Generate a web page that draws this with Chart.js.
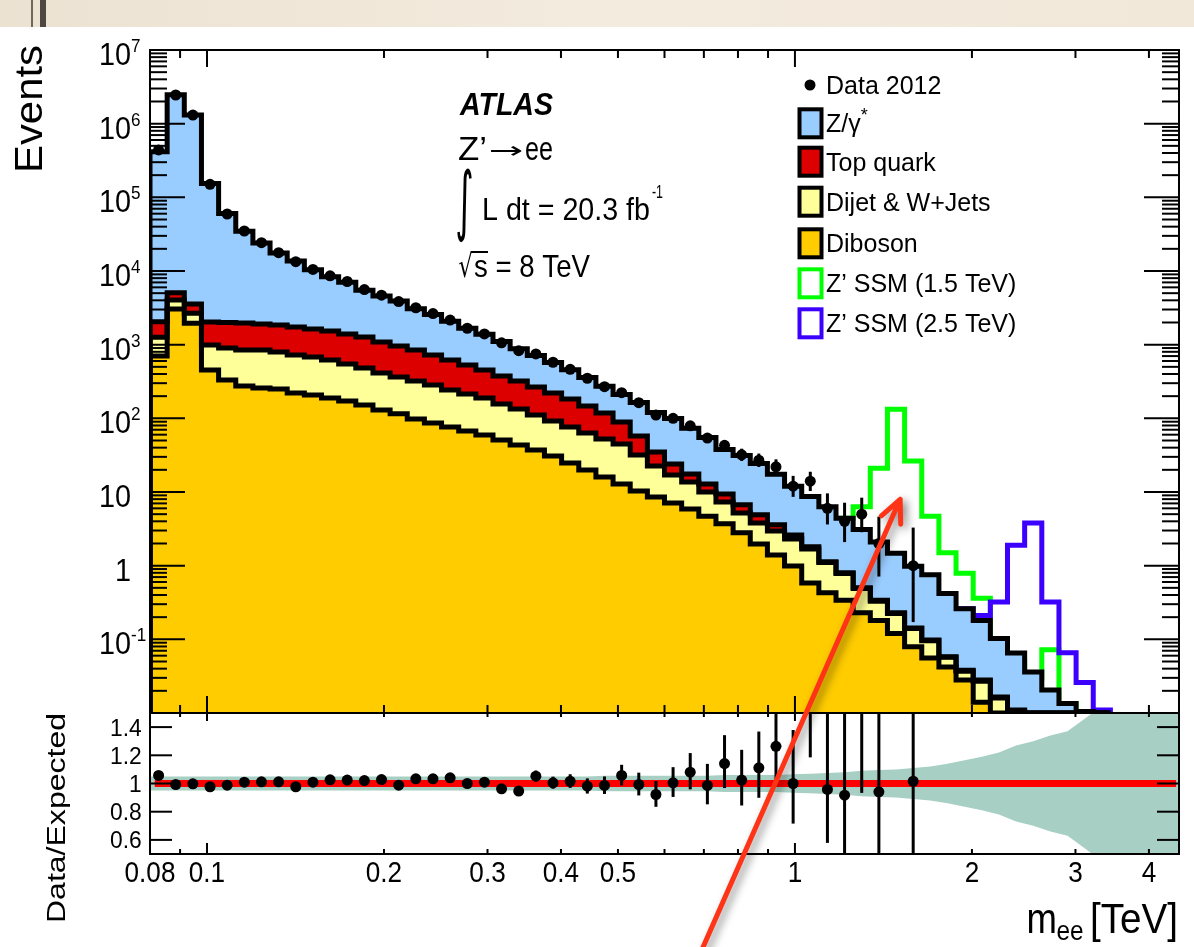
<!DOCTYPE html>
<html>
<head>
<meta charset="utf-8">
<title>ATLAS Z' to ee - dielectron mass spectrum</title>
<script src="https://cdn.jsdelivr.net/npm/chart.js@4.4.1/dist/chart.umd.min.js"></script>
<style>
  html, body { margin: 0; padding: 0; background: #fff; }
  #wrap { position: relative; width: 1194px; height: 947px; overflow: hidden; }
  #wrap canvas { position: absolute; left: 0; top: 0; }
</style>
</head>
<body>
<div id="wrap">
  <canvas id="mainChart" width="1194" height="947"></canvas>
  <canvas id="ratioChart" width="1194" height="947"></canvas>
</div>
<script>
// m_ee bin edges [TeV], 60 log bins
var binEdges = [0.08, 0.08556, 0.09150, 0.09786, 0.10466, 0.11193, 0.11970, 0.12802, 0.13691, 0.14643,
  0.15660, 0.16748, 0.17911, 0.19155, 0.20486, 0.21909, 0.23431, 0.25059, 0.26800, 0.28662,
  0.30651, 0.32780, 0.35059, 0.37494, 0.40100, 0.42887, 0.45866, 0.49053, 0.52460, 0.56105,
  0.60002, 0.64170, 0.68629, 0.73396, 0.78494, 0.83948, 0.89780, 0.96016, 1.02686, 1.09820,
  1.17448, 1.25608, 1.34334, 1.43666, 1.53646, 1.64321, 1.75734, 1.87942, 2.00998, 2.14962,
  2.29894, 2.45864, 2.62946, 2.81210, 3.00745, 3.21640, 3.43983, 3.67879, 3.93434, 4.20770, 4.5];

// Data 2012 (events per bin)
var dataCounts = [440000, 2450000, 1310000, 150000, 59400, 34900, 24200, 17700, 13400, 10500,
  8600, 7200, 5600, 4700, 3850, 3170, 2640, 2160, 1670, 1400,
  1060, 830, 748, 577, 463, 350, 269, 223, 163, 111,
  100, 79, 54, 43, 32, 27, 22, 12, 14, 6,
  4, 5, 2, 0, 1, 0, 0, 0, 0, 0,
  0, 0, 0, 0, 0, 0, 0, 0, 0, 0];

// stacked background, cumulative top of each layer
var zgammaTop = [416000, 2470000, 1310000, 154000, 60100, 34600, 23900, 17500, 13700, 10400,
  8380, 7030, 5480, 4570, 3900, 3070, 2560, 2080, 1670, 1390,
  1100, 877, 711, 574, 456, 357, 273, 211, 164, 120,
  99.5, 73.1, 54.8, 37.7, 31.2, 24.3, 17.4, 12.0, 8.7, 6.3,
  4.4, 3.1, 2.1, 1.47, 0.98, 0.75, 0.42, 0.26, 0.18, 0.103,
  0.065, 0.036, 0.0205, 0.0135, 0.0105, 0.005, 0, 0, 0, 0];
var topQuarkTop = [2050, 5080, 3565, 2030, 2000, 1970, 1910, 1850, 1740, 1630,
  1535, 1400, 1270, 1087, 960, 847, 724, 619, 530, 453,
  376, 321, 266, 221, 183, 147, 118, 89, 57.5, 34.9,
  24, 17.6, 12.8, 9.4, 6.7, 4.9, 3.6, 2.6, 1.8, 1.13,
  0.80, 0.50, 0.34, 0.23, 0.143, 0.098, 0.058, 0.038, 0.028, 0.0165,
  0.011, 0.007, 0.004, 0.003, 0.002, 0.001, 0, 0, 0, 0];
var dijetTop = [1259, 4040, 2667, 990, 902, 847, 847, 796, 724, 681,
  619, 547, 483, 413, 364, 321, 284, 243, 214, 189,
  157, 134, 111, 92, 76, 63, 52.5, 44.9, 31.8, 22.6,
  17.0, 13.7, 10.0, 7.3, 5.2, 3.8, 2.96, 2.3, 1.68, 1.10,
  0.78, 0.49, 0.33, 0.225, 0.14, 0.096, 0.057, 0.037, 0.027, 0.016,
  0.0105, 0.0068, 0.004, 0.003, 0.002, 0.001, 0, 0, 0, 0];
var dibosonTop = [702, 3050, 1950, 453, 332, 275, 258, 250, 221, 207,
  189, 172, 152, 130, 115, 98, 86.5, 76, 67.3, 59.4,
  50.8, 43.4, 37.2, 30.8, 24.8, 19.9, 16.0, 12.8, 10.3, 8.55,
  7.1, 5.9, 4.7, 3.7, 2.8, 1.97, 1.40, 0.99, 0.58, 0.43,
  0.34, 0.23, 0.18, 0.12, 0.079, 0.056, 0.042, 0.028, 0.014, 0.008,
  0.005, 0.003, 0.002, 0.001, 0.001, 0.0005, 0, 0, 0, 0];

// Z' SSM signal + background, drawn under the stack
var zprime1500 = [null, null, null, null, null, null, null, null, null, null,
  null, null, null, null, null, null, null, null, null, null,
  null, null, null, null, null, null, null, null, null, null,
  null, null, null, null, null, null, null, null, null, null,
  4.4, 6.3, 21, 133, 26.4, 4.7, 1.5, 0.79, 0.36, 0.09,
  0.05, 0.03, 0.072, 0.0135, null, null, null, null, null, null];
var zprime2500 = [null, null, null, null, null, null, null, null, null, null,
  null, null, null, null, null, null, null, null, null, null,
  null, null, null, null, null, null, null, null, null, null,
  null, null, null, null, null, null, null, null, null, null,
  null, null, null, null, null, null, null, 0.26, 0.21, 0.32,
  1.9, 3.8, 0.32, 0.066, 0.026, 0.011, null, null, null, null];

// lower panel
var ratioVals = [1.057, 0.993, 0.998, 0.977, 0.988, 1.009, 1.012, 1.012, 0.977, 1.009,
  1.026, 1.024, 1.021, 1.028, 0.988, 1.033, 1.033, 1.040, 1.0, 1.009,
  0.962, 0.946, 1.052, 1.005, 1.016, 0.981, 0.986, 1.057, 0.993, 0.922,
  1.005, 1.080, 0.986, 1.141, 1.024, 1.111, 1.264, 1.0, 1.61, 0.958,
  0.917, 1.64, 0.941, null, 1.016, null, null, null, null, null,
  null, null, null, null, null, null, null, null, null, null];
var bandErr = [0.05, 0.05, 0.05, 0.05, 0.05, 0.05, 0.05, 0.05, 0.05, 0.05,
  0.05, 0.05, 0.05, 0.05, 0.05, 0.05, 0.05, 0.05, 0.05, 0.05,
  0.05, 0.05, 0.05, 0.05, 0.05, 0.05, 0.055, 0.055, 0.055, 0.055,
  0.055, 0.055, 0.055, 0.06, 0.06, 0.06, 0.06, 0.065, 0.07, 0.075,
  0.08, 0.09, 0.095, 0.10, 0.11, 0.12, 0.14, 0.165, 0.19, 0.22,
  0.27, 0.30, 0.34, 0.37, 0.46, 0.55, 0.65, 0.7, 0.75, 0.8];

var xTickVals = [0.08, 0.1, 0.2, 0.3, 0.4, 0.5, 1, 2, 3, 4];
var xTickLabels = ['0.08', '0.1', '0.2', '0.3', '0.4', '0.5', '1', '2', '3', '4'];
var xMinorTicks = [0.09, 0.2, 0.3, 0.4, 0.5, 0.6, 0.7, 0.8, 0.9, 2, 3, 4];
var xMajorTicks = [0.1, 1];
var yExponents = [-1, 0, 1, 2, 3, 4, 5, 6, 7];
var ratioTicks = [0.6, 0.8, 1, 1.2, 1.4];
var ratioTickLabels = ['0.6', '0.8', '1', '1.2', '1.4'];
var ratioLineX = [0.0815, 4.45];

var legendItems = ['Data 2012', 'Z/\u03b3', 'Top quark', 'Dijet & W+Jets', 'Diboson', 'Z\u2019 SSM (1.5 TeV)', 'Z\u2019 SSM (2.5 TeV)'];
var legendRowY = [85, 123.3, 161.7, 201.7, 243.3, 283.3, 323.3];

var X_MIN = 0.08, X_MAX = 4.5, Y_MIN = 0.01, Y_MAX = 1e7;
var C_Z = 'rgb(153,204,255)', C_TOP = 'rgb(221,0,0)', C_DIJET = 'rgb(255,255,153)', C_DIB = 'rgb(255,204,0)';
var C_Z1 = 'rgb(0,255,0)', C_Z2 = 'rgb(60,0,255)', C_BAND = 'rgb(168,207,196)';
var FONT = '"Liberation Sans", Arial, Helvetica, sans-serif';

var binCenters = binEdges.slice(0, -1).map(function(e, i) { return Math.sqrt(e * binEdges[i + 1]); });

function clampY(v) { return Math.max(v, Y_MIN); }

function stackPoints(vals) {
  var last = -1;
  for (var i = 0; i < vals.length; i++) if (vals[i] > 0) last = i;
  var pts = [{x: binEdges[0], y: Y_MIN}];
  for (i = 0; i <= last; i++) pts.push({x: binEdges[i], y: clampY(vals[i])});
  pts.push({x: binEdges[last + 1], y: clampY(vals[last])});
  pts.push({x: binEdges[last + 1], y: Y_MIN});
  return pts;
}

function signalPoints(vals) {
  var pts = [], last = -1;
  for (var i = 0; i < vals.length; i++) {
    if (vals[i] != null) { pts.push({x: binEdges[i], y: clampY(vals[i])}); last = i; }
  }
  pts.push({x: binEdges[last + 1], y: clampY(vals[last])});
  pts.push({x: binEdges[last + 1], y: Y_MIN});
  return pts;
}

// 68% Poisson interval (Wilson-Hilferty approximation)
function poisLo(n) { return n <= 0 ? 0 : n * Math.pow(1 - 1 / (9 * n) - 1 / (3 * Math.sqrt(n)), 3); }
function poisHi(n) { var m = n + 1; return m * Math.pow(1 - 1 / (9 * m) + 1 / (3 * Math.sqrt(m)), 3); }

function txt(ctx, s, x, y, o) {
  o = o || {};
  ctx.save();
  ctx.font = (o.style || '') + ' ' + (o.size || 24) + 'px ' + FONT;
  ctx.fillStyle = o.color || '#000';
  ctx.textBaseline = 'alphabetic';
  ctx.textAlign = 'left';
  var w = ctx.measureText(s).width;
  var sx = o.w ? o.w / w : (o.sx || 1);
  ctx.translate(x, y);
  if (o.rot) ctx.rotate(o.rot);
  ctx.scale(sx, o.sy || 1);
  var off = o.align === 'right' ? -w : (o.align === 'center' ? -w / 2 : 0);
  ctx.fillText(s, off, 0);
  ctx.restore();
  return w * sx;
}

// squeeze one glyph into a box (for the integral, arrow and root signs)
function glyphBox(ctx, s, x1, y1, x2, y2, family) {
  ctx.save();
  ctx.font = '40px ' + family;
  ctx.fillStyle = '#000';
  ctx.textAlign = 'left'; ctx.textBaseline = 'alphabetic';
  var m = ctx.measureText(s);
  var gw = m.actualBoundingBoxLeft + m.actualBoundingBoxRight;
  var gh = m.actualBoundingBoxAscent + m.actualBoundingBoxDescent;
  ctx.translate(x1, y1);
  ctx.scale((x2 - x1) / gw, (y2 - y1) / gh);
  ctx.fillText(s, m.actualBoundingBoxLeft, m.actualBoundingBoxAscent);
  ctx.restore();
}

function line(ctx, x1, y1, x2, y2) {
  ctx.beginPath(); ctx.moveTo(x1, y1); ctx.lineTo(x2, y2); ctx.stroke();
}

function fillSet(vals, color, order) {
  return {data: stackPoints(vals), stepped: true, fill: 'start', backgroundColor: color,
    borderColor: 'rgba(0,0,0,0)', borderWidth: 0, pointRadius: 0, order: order};
}
function edgeSet(vals, order) {
  return {data: stackPoints(vals), stepped: true, fill: false, borderColor: '#000',
    borderWidth: 5, borderJoinStyle: 'miter', pointRadius: 0, order: order};
}
function signalSet(vals, color, order) {
  return {data: signalPoints(vals), stepped: true, fill: false, borderColor: color,
    borderWidth: 5, borderJoinStyle: 'miter', pointRadius: 0, order: order};
}

var dataPts = [];
dataCounts.forEach(function(n, i) { if (n > 0) dataPts.push({x: binCenters[i], y: n}); });

var mainDeco = {
  id: 'mainDeco',
  beforeDraw: function(chart) {
    var ctx = chart.ctx;
    ctx.save();
    var g = ctx.createLinearGradient(0, 0, 1194, 0);
    g.addColorStop(0, '#ECE2D2'); g.addColorStop(0.5, '#F3EBDE'); g.addColorStop(1, '#F1E8DA');
    ctx.fillStyle = g;
    ctx.fillRect(0, 0, 1194, 27);
    ctx.fillStyle = 'rgba(70,62,55,0.75)';
    ctx.fillRect(31, 0, 2, 27);
    ctx.fillStyle = 'rgba(50,45,40,0.85)';
    ctx.fillRect(40, 0, 6, 27);
    ctx.restore();
  },
  afterDatasetsDraw: function(chart) {
    var ctx = chart.ctx, a = chart.chartArea, xs = chart.scales.x, ys = chart.scales.y;
    ctx.save();
    ctx.beginPath(); ctx.rect(a.left, a.top, a.right - a.left, a.bottom - a.top); ctx.clip();
    ctx.strokeStyle = '#000'; ctx.lineWidth = 3;
    dataCounts.forEach(function(n, i) {
      if (n <= 0) return;
      var px = xs.getPixelForValue(binCenters[i]);
      line(ctx, px, ys.getPixelForValue(poisHi(n)), px, ys.getPixelForValue(Math.max(poisLo(n), 1e-4)));
    });
    ctx.restore();
  },
  afterDraw: function(chart) {
    var ctx = chart.ctx, a = chart.chartArea, xs = chart.scales.x, ys = chart.scales.y;
    ctx.save();
    ctx.strokeStyle = '#000'; ctx.lineWidth = 2;
    // x ticks, top and bottom, pointing inwards
    xMinorTicks.forEach(function(v) {
      var px = xs.getPixelForValue(v);
      line(ctx, px, a.bottom, px, a.bottom - 8); line(ctx, px, a.top, px, a.top + 8);
    });
    xMajorTicks.forEach(function(v) {
      var px = xs.getPixelForValue(v);
      line(ctx, px, a.bottom, px, a.bottom - 17); line(ctx, px, a.top, px, a.top + 17);
    });
    // y ticks left and right
    for (var e = -2; e <= 6; e++) {
      for (var k = 1; k <= 9; k++) {
        var v = k * Math.pow(10, e);
        if (v <= Y_MIN || v >= Y_MAX) continue;
        var py = ys.getPixelForValue(v), len = k === 1 ? 35 : 17;
        line(ctx, a.left, py, a.left + len, py); line(ctx, a.right, py, a.right - len, py);
      }
    }
    ctx.strokeRect(a.left, a.top, a.right - a.left, a.bottom - a.top);
    ctx.restore();

    // y labels
    yExponents.forEach(function(n) {
      var py = ys.getPixelForValue(Math.pow(10, n));
      if (n === 0) { txt(ctx, '1', 131, py + 15, {size: 32, sx: 0.9, align: 'right'}); return; }
      if (n === 1) { txt(ctx, '10', 131, py + 15, {size: 32, sx: 0.9, align: 'right'}); return; }
      txt(ctx, '10', 131, py + 15, {size: 32, sx: 0.9, align: 'right'});
      txt(ctx, String(n), 131, py + 2, {size: 19, sx: 0.9});
    });
    txt(ctx, 'Events', 41.5, 45, {size: 38, rot: -Math.PI / 2, align: 'right', w: 128});

    // ATLAS labels
    txt(ctx, 'ATLAS', 460, 115, {size: 32, style: 'italic bold', w: 93});
    txt(ctx, 'Z\u2019', 458, 160, {size: 33, w: 29});
    glyphBox(ctx, '\u2192', 491, 145, 522, 156, '"DejaVu Sans", sans-serif');
    txt(ctx, 'ee', 525, 160, {size: 33, w: 28});
    glyphBox(ctx, '\u222b', 457, 167, 472, 243, '"DejaVu Sans", sans-serif');
    txt(ctx, 'L dt = 20.3 fb', 482, 220, {size: 32, w: 168});
    txt(ctx, '-1', 652, 198, {size: 19, w: 11});
    glyphBox(ctx, '\u221a', 459, 251, 473, 278, '"DejaVu Sans", sans-serif');
    txt(ctx, 's = 8 TeV', 474, 277, {size: 32, w: 116});
    ctx.save(); ctx.strokeStyle = '#000'; ctx.lineWidth = 2;
    line(ctx, 471, 252, 488, 252);
    ctx.restore();

    // legend
    var fills = [null, C_Z, C_TOP, C_DIJET, C_DIB, '#fff', '#fff'];
    var edges = [null, '#000', '#000', '#000', '#000', C_Z1, C_Z2];
    ctx.save();
    ctx.fillStyle = '#000';
    ctx.beginPath(); ctx.arc(810, legendRowY[0], 5.5, 0, Math.PI * 2); ctx.fill();
    for (var i = 1; i < legendItems.length; i++) {
      var cy = legendRowY[i];
      ctx.fillStyle = fills[i];
      ctx.fillRect(799.5, cy - 14, 22, 28);
      ctx.strokeStyle = edges[i]; ctx.lineWidth = 4;
      ctx.strokeRect(799.5, cy - 14, 22, 28);
    }
    ctx.restore();
    legendItems.forEach(function(s, i) {
      var w = txt(ctx, s, 826, legendRowY[i] + 9, {size: 25});
      if (i === 1) txt(ctx, '*', 826 + w, legendRowY[i] - 2, {size: 18});
    });
  }
};

var mainChart = new Chart(document.getElementById('mainChart'), {
  type: 'line',
  data: {
    datasets: [
      {data: dataPts, showLine: false, pointRadius: 5.5, pointBackgroundColor: '#000', pointBorderWidth: 0, order: 0},
      edgeSet(dibosonTop, 10),
      edgeSet(dijetTop, 11),
      edgeSet(topQuarkTop, 12),
      edgeSet(zgammaTop, 13),
      fillSet(dibosonTop, C_DIB, 17),
      fillSet(dijetTop, C_DIJET, 18),
      fillSet(topQuarkTop, C_TOP, 19),
      fillSet(zgammaTop, C_Z, 20),
      signalSet(zprime2500, C_Z2, 21),
      signalSet(zprime1500, C_Z1, 22)
    ]
  },
  options: {
    responsive: false, animation: false, devicePixelRatio: 1,
    layout: {padding: {left: 150, top: 50, right: 15, bottom: 234}},
    plugins: {legend: {display: false}, tooltip: {enabled: false}},
    scales: {
      x: {type: 'logarithmic', min: X_MIN, max: X_MAX, display: false},
      y: {type: 'logarithmic', min: Y_MIN, max: Y_MAX, display: false}
    }
  },
  plugins: [mainDeco]
});

// ---- ratio panel ----
function bandPoints(sign) {
  var pts = [{x: X_MIN, y: 1 + sign * bandErr[0]}];
  binCenters.forEach(function(c, i) { pts.push({x: c, y: 1 + sign * bandErr[i]}); });
  pts.push({x: X_MAX, y: 1 + sign * bandErr[bandErr.length - 1]});
  return pts;
}
var ratioPts = [];
ratioVals.forEach(function(r, i) { if (r != null) ratioPts.push({x: binCenters[i], y: r}); });

var ratioDeco = {
  id: 'ratioDeco',
  afterDatasetsDraw: function(chart) {
    var ctx = chart.ctx, a = chart.chartArea, xs = chart.scales.x, ys = chart.scales.y;
    ctx.save();
    ctx.beginPath(); ctx.rect(a.left, a.top, a.right - a.left, a.bottom - a.top); ctx.clip();
    ctx.strokeStyle = '#000'; ctx.lineWidth = 3;
    ratioVals.forEach(function(r, i) {
      if (r == null) return;
      var n = dataCounts[i], px = xs.getPixelForValue(binCenters[i]);
      line(ctx, px, ys.getPixelForValue(r * poisHi(n) / n), px, ys.getPixelForValue(r * poisLo(n) / n));
    });
    ctx.restore();
  },
  afterDraw: function(chart) {
    var ctx = chart.ctx, a = chart.chartArea, xs = chart.scales.x, ys = chart.scales.y;
    ctx.save();
    ctx.strokeStyle = '#000'; ctx.lineWidth = 2;
    xMinorTicks.forEach(function(v) {
      var px = xs.getPixelForValue(v);
      line(ctx, px, a.bottom, px, a.bottom - 5); line(ctx, px, a.top, px, a.top + 4);
    });
    xMajorTicks.forEach(function(v) {
      var px = xs.getPixelForValue(v);
      line(ctx, px, a.bottom, px, a.bottom - 11); line(ctx, px, a.top, px, a.top + 8);
    });
    ratioTicks.forEach(function(v) {
      var py = ys.getPixelForValue(v);
      line(ctx, a.left, py, a.left + 22, py); line(ctx, a.right, py, a.right - 22, py);
    });
    ctx.strokeRect(a.left, a.top, a.right - a.left, a.bottom - a.top);
    ctx.restore();

    ratioTicks.forEach(function(v, i) {
      txt(ctx, ratioTickLabels[i], 141.7, ys.getPixelForValue(v) + 8.5, {size: 24, sx: 0.95, align: 'right'});
    });
    xTickVals.forEach(function(v, i) {
      txt(ctx, xTickLabels[i], xs.getPixelForValue(v), 882, {size: 30, sx: 0.87, align: 'center'});
    });
    txt(ctx, 'Data/Expected', 65, 713, {size: 26, rot: -Math.PI / 2, align: 'right', w: 210});
    txt(ctx, 'm', 1026.5, 933, {size: 42, sx: 0.87});
    txt(ctx, 'ee', 1056.5, 940, {size: 28, sx: 0.87});
    txt(ctx, '[TeV]', 1090, 933, {size: 42, w: 88});

    // red annotation arrow, anchored in the main panel's data space
    var mx = mainChart.scales.x, my = mainChart.scales.y;
    var tx = mx.getPixelForValue(1.51), ty = my.getPixelForValue(7.96);
    var sx0 = mx.getPixelForValue(0.683), sy0 = my.getPixelForValue(4.5e-6);
    var ang = Math.atan2(sy0 - ty, sx0 - tx), hl = 25, da = 25 * Math.PI / 180;
    ctx.save();
    ctx.strokeStyle = 'rgb(255,52,22)'; ctx.lineWidth = 5; ctx.lineCap = 'round'; ctx.lineJoin = 'round';
    ctx.shadowColor = 'rgba(0,0,0,0.45)'; ctx.shadowBlur = 8; ctx.shadowOffsetX = 4; ctx.shadowOffsetY = 3;
    ctx.beginPath();
    ctx.moveTo(sx0, sy0); ctx.lineTo(tx, ty);
    ctx.moveTo(tx + hl * Math.cos(ang + da), ty + hl * Math.sin(ang + da));
    ctx.lineTo(tx, ty);
    ctx.lineTo(tx + hl * Math.cos(ang - da), ty + hl * Math.sin(ang - da));
    ctx.stroke();
    ctx.restore();
  }
};

var ratioChart = new Chart(document.getElementById('ratioChart'), {
  type: 'line',
  data: {
    datasets: [
      {data: ratioPts, showLine: false, pointRadius: 5.5, pointBackgroundColor: '#000', pointBorderWidth: 0, order: 0},
      {data: ratioLineX.map(function(x) { return {x: x, y: 1}; }), borderColor: 'rgb(255,0,0)', borderWidth: 7, pointRadius: 0, fill: false, order: 2},
      {data: bandPoints(1), fill: '+1', backgroundColor: C_BAND, borderColor: 'rgba(0,0,0,0)', borderWidth: 0, pointRadius: 0, order: 5},
      {data: bandPoints(-1), fill: false, borderColor: 'rgba(0,0,0,0)', borderWidth: 0, pointRadius: 0, order: 6}
    ]
  },
  options: {
    responsive: false, animation: false, devicePixelRatio: 1,
    layout: {padding: {left: 150, top: 713, right: 15, bottom: 93}},
    plugins: {legend: {display: false}, tooltip: {enabled: false}},
    scales: {
      x: {type: 'logarithmic', min: X_MIN, max: X_MAX, display: false},
      y: {type: 'linear', min: 0.5, max: 1.5, display: false}
    }
  },
  plugins: [ratioDeco]
});
</script>
</body>
</html>
